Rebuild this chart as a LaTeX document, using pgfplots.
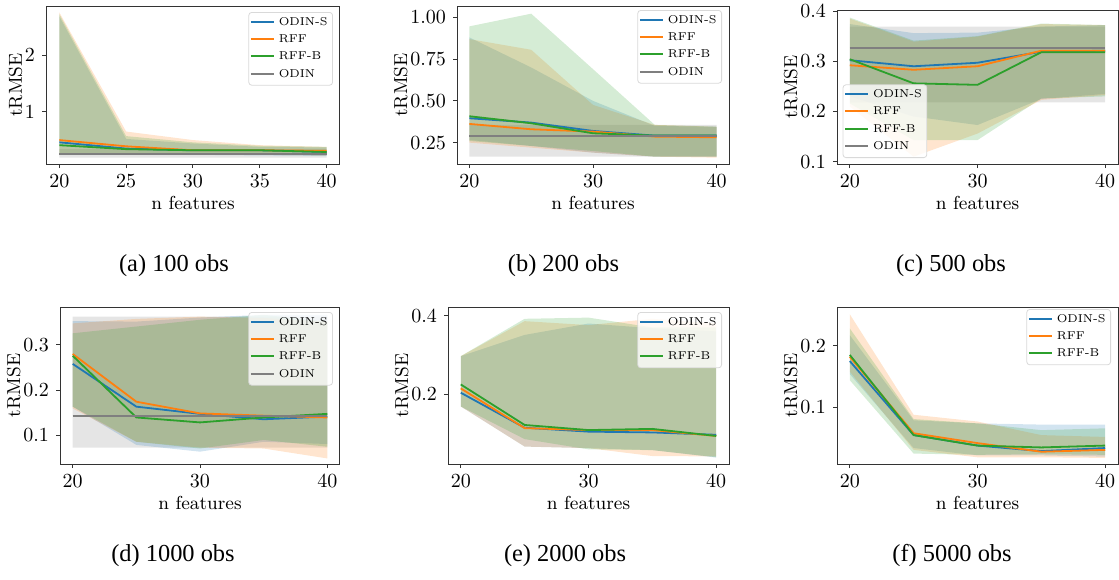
\documentclass[border=0pt]{standalone}
\usepackage{fontspec}
\usepackage{pgfplots}
\pgfplotsset{compat=1.18}
\usepackage{pgfplotstable}
\usepgfplotslibrary{fillbetween}
\newfontfamily\capfont{Liberation Serif}
\definecolor{C0}{RGB}{31,119,180}
\definecolor{C1}{RGB}{255,127,14}
\definecolor{C2}{RGB}{44,160,44}
\definecolor{C7}{RGB}{127,127,127}

% columns: x, ODIN-S (mean, low, high), RFF (mean, low, high), RFF-B (mean, low, high), ODIN (mean, low, high)
\pgfplotstableread{
x  sm    sl    su    rm    rl    ru    bm    bl    bu    om    ol    ou
20 0.46  0.24  2.68  0.50  0.25  2.75  0.41  0.24  2.72  0.26  0.19  0.34
25 0.35  0.25  0.52  0.39  0.26  0.65  0.34  0.25  0.57  0.26  0.19  0.34
30 0.32  0.24  0.44  0.32  0.25  0.50  0.32  0.25  0.46  0.26  0.19  0.34
35 0.32  0.23  0.38  0.32  0.24  0.41  0.32  0.24  0.40  0.26  0.19  0.34
40 0.29  0.22  0.37  0.31  0.23  0.38  0.29  0.23  0.38  0.26  0.19  0.34
}\ta
\pgfplotstableread{
x  sm    sl    su    rm    rl    ru    bm    bl    bu    om    ol    ou
20 0.396 0.266 0.88  0.362 0.25  0.87  0.408 0.26  0.946 0.292 0.166 0.356
25 0.37  0.23  0.70  0.33  0.22  0.806 0.366 0.23  1.022 0.292 0.166 0.356
30 0.32  0.19  0.50  0.316 0.19  0.476 0.306 0.20  0.69  0.292 0.166 0.356
35 0.292 0.166 0.35  0.286 0.166 0.356 0.292 0.166 0.356 0.292 0.166 0.356
40 0.292 0.166 0.345 0.282 0.16  0.345 0.292 0.166 0.346 0.292 0.166 0.356
}\tb
\pgfplotstableread{
x  sm    sl    su    rm    rl    ru    bm    bl    bu    om    ol    ou
20 0.302 0.23  0.374 0.292 0.21  0.385 0.304 0.216 0.387 0.326 0.218 0.369
25 0.29  0.19  0.356 0.283 0.11  0.339 0.256 0.143 0.341 0.326 0.218 0.369
30 0.297 0.173 0.357 0.29  0.156 0.349 0.253 0.143 0.35  0.326 0.218 0.369
35 0.319 0.225 0.369 0.321 0.223 0.374 0.318 0.226 0.375 0.326 0.218 0.369
40 0.321 0.235 0.372 0.321 0.233 0.372 0.318 0.23  0.372 0.326 0.218 0.369
}\tc
\pgfplotstableread{
x  sm    sl    su    rm    rl    ru    bm    bl    bu    om    ol    ou
20 0.258 0.163 0.353 0.28  0.159 0.348 0.276 0.163 0.326 0.143 0.072 0.363
25 0.163 0.078 0.352 0.174 0.085 0.358 0.139 0.085 0.341 0.143 0.072 0.363
30 0.147 0.063 0.361 0.148 0.072 0.363 0.128 0.07  0.356 0.143 0.072 0.363
35 0.135 0.085 0.367 0.143 0.07  0.36  0.139 0.089 0.367 0.143 0.072 0.363
40 0.141 0.08  0.367 0.139 0.048 0.352 0.147 0.074 0.352 0.143 0.072 0.363
}\td
\pgfplotstableread{
x  sm    sl    su    rm    rl    ru    bm    bl    bu
20 0.204 0.169 0.297 0.215 0.169 0.297 0.225 0.169 0.297
25 0.115 0.067 0.351 0.114 0.067 0.386 0.122 0.086 0.392
30 0.105 0.063 0.38  0.109 0.063 0.376 0.109 0.06  0.395
35 0.103 0.058 0.368 0.109 0.043 0.392 0.112 0.058 0.37
40 0.097 0.039 0.36  0.094 0.042 0.38  0.094 0.04  0.37
}\te
\pgfplotstableread{
x  sm    sl    su    rm    rl    ru    bm    bl    bu
20 0.175 0.154 0.217 0.182 0.158 0.251 0.185 0.144 0.228
25 0.055 0.034 0.079 0.058 0.031 0.088 0.055 0.025 0.081
30 0.038 0.022 0.074 0.042 0.019 0.077 0.038 0.023 0.074
35 0.029 0.022 0.072 0.028 0.019 0.055 0.035 0.024 0.063
40 0.034 0.02  0.072 0.031 0.018 0.052 0.038 0.023 0.066
}\tf

\newcommand\band[4]{%
  \addplot[name path=hi#2, draw=none, forget plot] table[x=x,y=#2]{#1};
  \addplot[name path=lo#2, draw=none, forget plot] table[x=x,y=#3]{#1};
  \addplot[fill=#4, fill opacity=0.2, draw=none, forget plot] fill between[of=hi#2 and lo#2];
}
\newcommand\threeseries[1]{%
  \band{#1}{su}{sl}{C0}
  \band{#1}{ru}{rl}{C1}
  \band{#1}{bu}{bl}{C2}
  \addplot[C0, line width=0.9pt] table[x=x,y=sm]{#1}; \addlegendentry{ODIN-S}
  \addplot[C1, line width=0.9pt] table[x=x,y=rm]{#1}; \addlegendentry{RFF}
  \addplot[C2, line width=0.9pt] table[x=x,y=bm]{#1}; \addlegendentry{RFF-B}
}
\newcommand\fourseries[1]{%
  \band{#1}{ou}{ol}{C7}
  \threeseries{#1}
  \addplot[C7, line width=0.9pt] table[x=x,y=om]{#1}; \addlegendentry{ODIN}
}

\pgfplotsset{
  panel/.style={
    scale only axis, anchor=north west,
    xmin=19, xmax=41,
    axis line style={black!80, line width=0.5pt},
    tick style={black!80, line width=0.5pt},
    major tick length=2pt, tick align=outside, tick pos=left,
    ticklabel style={font=\fontsize{10}{11}\selectfont},
    label style={font=\fontsize{9.4}{10}\selectfont},
    xlabel={n features}, ylabel={tRMSE},
    xlabel shift=-2.5pt, ylabel shift=-5.5pt,
    xtick={20,30,40},
    legend cell align=left,
    legend image code/.code={\draw[##1, line width=1pt] (0pt,0.6pt) -- (11.5pt,0.6pt);},
    legend style={font=\fontsize{5.7}{6}\selectfont, draw=black!15, line width=0.4pt,
      rounded corners=1.5pt, fill=white, fill opacity=0.8, text opacity=1,
      inner xsep=0.5pt, inner ysep=0.5pt, row sep=-0.8pt,
      at={(1,1)}, anchor=north east, xshift=-3.5pt, yshift=-3pt},
  },
}

\begin{document}
\begin{tikzpicture}
% (a)
\begin{axis}[panel, at={(23pt,-3pt)}, width=147pt, height=79pt,
  ymin=0.078, ymax=2.864, xtick={20,25,30,35,40},
  ytick={1,2}, yticklabels={1,2}]
\fourseries{\ta}
\end{axis}
% (b)
\begin{axis}[panel, at={(228.5pt,-3pt)}, width=136pt, height=79pt,
  ymin=0.122, ymax=1.068,
  ytick={0.25,0.5,0.75,1}, yticklabels={0.25,0.50,0.75,1.00},
  legend style={yshift=1pt}]
\fourseries{\tb}
\end{axis}
% (c)
\begin{axis}[panel, at={(418.5pt,-5pt)}, width=140.5pt, height=77pt,
  ymin=0.0954, ymax=0.402,
  ytick={0.1,0.2,0.3,0.4}, yticklabels={0.1,0.2,0.3,0.4},
  legend style={at={(0,0)}, anchor=south west, xshift=6.3pt, yshift=6pt}]
\fourseries{\tc}
\end{axis}
% (d)
\begin{axis}[panel, at={(30pt,-153.5pt)}, width=140pt, height=78.5pt,
  ymin=0.0356, ymax=0.3844,
  ytick={0.1,0.2,0.3}, yticklabels={0.1,0.2,0.3},
  legend style={yshift=0.5pt}]
\fourseries{\td}
\end{axis}
% (e)
\begin{axis}[panel, at={(224pt,-153.5pt)}, width=140.5pt, height=78.5pt,
  ymin=0.0227, ymax=0.422,
  ytick={0.2,0.4}, yticklabels={0.2,0.4},
  legend style={yshift=0.5pt}]
\threeseries{\te}
\end{axis}
% (f)
\begin{axis}[panel, at={(418.5pt,-153.5pt)}, width=140.5pt, height=78.5pt,
  ymin=0.0081, ymax=0.2627,
  ytick={0.1,0.2}, yticklabels={0.1,0.2},
  legend style={yshift=2pt}]
\threeseries{\tf}
\end{axis}
% captions
\begin{scope}[every node/.style={anchor=base, inner sep=0pt, font=\capfont\fontsize{12.2}{14}\selectfont}]
\node at (87pt,-135.5pt) {(a) 100 obs};
\node at (281.75pt,-135.5pt) {(b) 200 obs};
\node at (475.5pt,-135.5pt) {(c) 500 obs};
\node at (86.5pt,-280.5pt) {(d) 1000 obs};
\node at (282.5pt,-280.5pt) {(e) 2000 obs};
\node at (476pt,-280.5pt) {(f) 5000 obs};
\end{scope}
\pgfresetboundingbox
\useasboundingbox (0,0) rectangle (559.5pt,-289.5pt);
\end{tikzpicture}
\end{document}
